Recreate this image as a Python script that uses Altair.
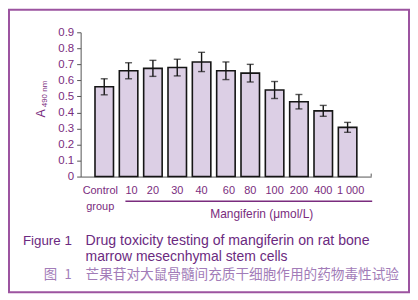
import altair as alt
import pandas as pd

# ---- data ----
categories = ["Control", "10", "20", "30", "40", "60", "80", "100", "200", "400", "1 000"]
means = [0.56, 0.66, 0.675, 0.68, 0.715, 0.66, 0.645, 0.54, 0.467, 0.41, 0.307]
errors = [0.05, 0.05, 0.05, 0.052, 0.06, 0.055, 0.055, 0.053, 0.045, 0.034, 0.031]
y_ticks = [0, 0.1, 0.2, 0.3, 0.4, 0.5, 0.6, 0.7, 0.8, 0.9]

x_group_title = "Mangiferin (\u03bcmol/L)"
caption_en_label = "Figure 1"
caption_en_lines = ["Drug toxicity testing of mangiferin on rat bone",
                    "marrow mesecnhymal stem cells"]
caption_zh_label = ["图", "1"]
caption_zh = "芒果苷对大鼠骨髓间充质干细胞作用的药物毒性试验"

df = pd.DataFrame({"cat": categories, "mean": means, "err": errors})
df["lo"] = df["mean"] - df["err"]
df["hi"] = df["mean"] + df["err"]

PURPLE = "#7a2c7e"
FONT = "Liberation Sans"
W, H = 292, 145

label_offset = {
    "condition": [
        {"test": "datum.value == 'Control'", "value": -4},
        {"test": "datum.value == '10'", "value": 3},
        {"test": "datum.value == '60'", "value": 3},
        {"test": "datum.value == '1 000'", "value": 3},
    ],
    "value": 0,
}

xaxis = alt.Axis(title=None, labelAngle=0, ticks=False, labelPadding=8,
                 labelFontSize=11, labelColor=PURPLE, labelFont=FONT,
                 labelOverlap=False, labelBound=False, labelOffset=label_offset,
                 labelLineHeight=16, domainColor="#555555", domainWidth=1,
                 labelExpr="datum.value == 'Control' ? ['Control', 'group'] : datum.value")
xscale = alt.Scale(paddingInner=0.24, paddingOuter=0.59)
yscale = alt.Scale(domain=[0, 0.9], nice=False)
yaxis = alt.Axis(title=None, values=y_ticks, format=".1~f", labelFontSize=11.5,
                 labelColor=PURPLE, labelFont=FONT, tickSize=4, tickColor="#555555",
                 labelOverlap=False, labelFlush=False, labelBound=False,
                 domainColor="#555555", labelPadding=3, grid=False)


def X():
    return alt.X("cat:N", sort=categories, scale=xscale, axis=xaxis)


def Y(field):
    return alt.Y(field, type="quantitative", scale=yscale, axis=yaxis)


bars = alt.Chart(df).mark_bar(fill="#dccfe5", stroke="#151515", strokeWidth=1.6).encode(
    x=X(), y=Y("mean"))
err_rule = alt.Chart(df).mark_rule(color="#151515", strokeWidth=1.4).encode(
    x=X(), y=Y("lo"), y2="hi:Q")
cap_lo = alt.Chart(df).mark_tick(color="#151515", thickness=1.4, size=7, orient="horizontal").encode(
    x=X(), y=Y("lo"))
cap_hi = alt.Chart(df).mark_tick(color="#151515", thickness=1.4, size=7, orient="horizontal").encode(
    x=X(), y=Y("hi"))


def one(text):
    return pd.DataFrame({"t": [text]})


def label(text, x, y, size, color, align="left", angle=0, font=FONT):
    return alt.Chart(one(text)).mark_text(
        align=align, baseline="middle", fontSize=size, color=color, font=font, angle=angle
    ).encode(x=alt.value(x), y=alt.value(y), text="t:N")


ytitle_a = label("A", -40, 81.5, 12.5, PURPLE, align="center", angle=270)
ytitle_sub = label("490 nm", -35.5, 62, 8, PURPLE, align="center", angle=270)

group_rule = alt.Chart(one("r")).mark_rule(color=PURPLE, strokeWidth=1.3).encode(
    x=alt.value(45), x2=alt.value(293), y=alt.value(169.8))
group_title = label(x_group_title, 182, 183, 12, PURPLE, align="center")

end_tick = alt.Chart(one("e")).mark_rule(color="#555555", strokeWidth=1).encode(
    x=alt.value(W), y=alt.value(H), y2=alt.value(H - 3))

EN = "#6b2a80"
ZH = "#a27cb8"
cap1 = label(caption_en_label, -58, 210, 13.4, EN)
cap2 = label(caption_en_lines[0], 5, 210, 14.2, EN)
cap3 = label(caption_en_lines[1], 5, 225.5, 14, EN)
cap4a = label(caption_zh_label[0], -37, 244, 13.5, ZH, font="Noto Sans CJK SC")
cap4b = label(caption_zh_label[1], -9, 244, 13, ZH, align="right", font="Noto Sans CJK SC")
cap5 = label(caption_zh, 5, 244, 13.7, ZH, font="Noto Sans CJK SC")

border = alt.Chart(one("b")).mark_rect(fill=None, stroke="#9c54a0", strokeWidth=2).encode(
    x=alt.value(-72), x2=alt.value(330), y=alt.value(-22.7), y2=alt.value(261.3))

chart = alt.layer(
    bars, err_rule, cap_lo, cap_hi, ytitle_a, ytitle_sub, group_rule, group_title,
    end_tick, cap1, cap2, cap3, cap4a, cap4b, cap5, border
).properties(
    width=W, height=H,
    autosize=alt.AutoSizeParams(type="none"),
    padding={"left": 73, "top": 23.7, "right": 39, "bottom": 117.3},
    background="white",
).configure_view(stroke=None)

chart.save("out.html", embed_options={"renderer": "svg", "actions": False})
